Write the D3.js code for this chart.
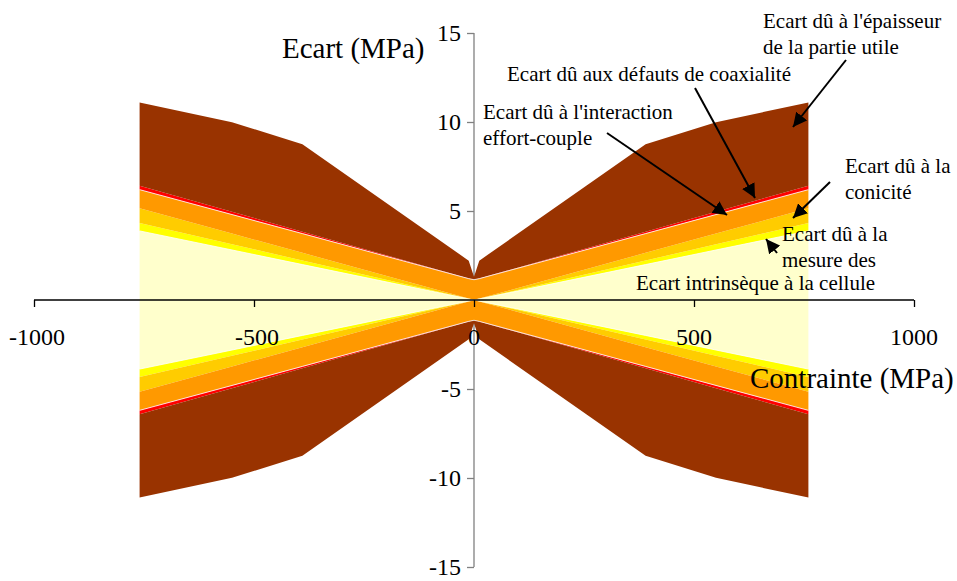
<!DOCTYPE html>
<html><head><meta charset="utf-8">
<script src="https://cdn.jsdelivr.net/npm/d3@7"></script>
</head><body style="margin:0">
<svg id="c" width="957" height="581"></svg>
<script>
// x positions (MPa)
const stress = [-760, -550, -390, -12, 0, 12, 390, 550, 760];
// layer thicknesses (MPa), stacked from the axis outward (mirrored below)
const intrinseque = [3.88, 2.81, 1.99, 0.06, 0, 0.06, 1.99, 2.81, 3.88];
const mesure      = [0.44, 0.32, 0.23, 0.01, 0, 0.01, 0.23, 0.32, 0.44];
const conicite    = [0.83, 0.60, 0.43, 0.01, 0, 0.01, 0.43, 0.60, 0.83];
const interaction = [1.05, 1.07, 1.08, 1.12, 1.14, 1.12, 1.08, 1.07, 1.05];
const coaxialite  = [0.22, 0.16, 0.11, 0.01, 0, 0.01, 0.11, 0.16, 0.22];
const epaisseur   = [4.68, 5.03, 4.91, 1.00, 0.17, 1.00, 4.91, 5.03, 4.68];
const layerColors = ["#FFFFCC", "#FFFF00", "#FFCC00", "#FF9900", "#FF0000", "#993300"];
const xTicks = [-1000, -500, 0, 500, 1000];
const yTicks = [15, 10, 5, -5, -10, -15];

const FONT = "'Liberation Serif', monospace";
const svg = d3.select("#c");
const x = d3.scaleLinear().domain([-1000, 1000]).range([34, 914]);
const y = d3.scaleLinear().domain([-15, 15]).range([567, 33]);

const layers = [intrinseque, mesure, conicite, interaction, coaxialite, epaisseur];
const rows = stress.map((s, i) => {
  const r = {s};
  layers.forEach((l, k) => r["k" + k] = l[i]);
  return r;
});
const stack = d3.stack().keys(layers.map((_, k) => "k" + k))(rows);

function label(parent, px, py, size, str, anchor) {
  return parent.append("text").attr("x", px).attr("y", py).attr("font-size", size)
    .attr("font-family", FONT).attr("text-anchor", anchor || "start").attr("fill", "#000").text(str);
}
const fmt = d => d < 0 ? "-" + Math.abs(d) : String(d);

// y axis (gray line, drawn behind areas)
const yAxis = svg.append("g").attr("transform", `translate(${x(0)},0)`)
  .call(d3.axisLeft(y).tickValues(yTicks).tickSize(7).tickFormat(""));
yAxis.select(".domain").attr("stroke", "#808080").attr("stroke-width", 1.3).attr("d", `M0,${y(15)}V${y(-15)}`);
yAxis.selectAll(".tick line").attr("stroke", "#808080").attr("stroke-width", 1.3);
yAxis.selectAll(".tick text").remove();

const area = d3.area().x(d => x(d.data.s)).y0(d => y(d[0])).y1(d => y(d[1]));
const areaNeg = d3.area().x(d => x(d.data.s)).y0(d => y(-d[0])).y1(d => y(-d[1]));
const gA = svg.append("g");
stack.forEach((s, k) => {
  gA.append("path").attr("d", area(s)).attr("fill", layerColors[k]);
  gA.append("path").attr("d", areaNeg(s)).attr("fill", layerColors[k]);
});
// thin white borders as in the original
const topLine = d3.line().x(d => x(d.data.s)).y(d => y(d[1]));
const botLine = d3.line().x(d => x(d.data.s)).y(d => y(-d[1]));
[0, 3].forEach(k => {
  gA.append("path").attr("d", topLine(stack[k])).attr("fill", "none").attr("stroke", "#fff").attr("stroke-width", 0.8);
  gA.append("path").attr("d", botLine(stack[k])).attr("fill", "none").attr("stroke", "#fff").attr("stroke-width", 0.8);
});

// x axis (black, on top)
const xAxis = svg.append("g").attr("transform", `translate(0,${y(0)})`)
  .call(d3.axisBottom(x).tickValues(xTicks).tickSize(7).tickFormat(""));
xAxis.select(".domain").attr("stroke", "#000").attr("stroke-width", 1.3).attr("d", `M${x(-1000)},0H${x(1000)}`);
xAxis.selectAll(".tick line").attr("stroke", "#000").attr("stroke-width", 1.3);
xAxis.selectAll(".tick text").remove();

// tick labels
const gT = svg.append("g");
yTicks.forEach(v => label(gT, x(0) - 13, y(v) + 8, 24, fmt(v), "end"));
xTicks.forEach(v => label(gT, x(v) + (v < 0 ? 3 : 0), y(0) + 45, 24, fmt(v), "middle"));

// axis titles
label(svg, 282, 58, 29, "Ecart (MPa)");
label(svg, 750, 388, 29, "Contrainte (MPa)");

// annotations
const notes = [
  {lines: ["Ecart dû à l'épaisseur", "de la partie utile"], x: 763, y: 28},
  {lines: ["Ecart dû aux défauts de coaxialité"], x: 507, y: 81},
  {lines: ["Ecart dû à l'interaction", "effort-couple"], x: 483, y: 119},
  {lines: ["Ecart dû à la", "conicité"], x: 845, y: 173},
  {lines: ["Ecart dû à la", "mesure des"], x: 782, y: 241},
  {lines: ["Ecart intrinsèque à la cellule"], x: 636, y: 290}
];
notes.forEach(n => n.lines.forEach((l, i) => label(svg, n.x, n.y + i * 26, 21, l)));

svg.append("defs").append("marker").attr("id", "ah").attr("viewBox", "0 0 10 10")
  .attr("refX", 10).attr("refY", 5).attr("markerWidth", 7).attr("markerHeight", 7)
  .attr("markerUnits", "strokeWidth").attr("orient", "auto")
  .append("path").attr("d", "M0,0L10,5L0,10z").attr("fill", "#000");
const arrows = [
  [846, 60, 793, 127],
  [695, 88, 755, 198],
  [607, 133, 727, 215],
  [830, 182, 793, 218],
  [777, 253, 766, 239]
];
arrows.forEach(a => svg.append("line").attr("x1", a[0]).attr("y1", a[1]).attr("x2", a[2]).attr("y2", a[3])
  .attr("stroke", "#000").attr("stroke-width", 2).attr("marker-end", "url(#ah)"));
</script>
</body></html>
